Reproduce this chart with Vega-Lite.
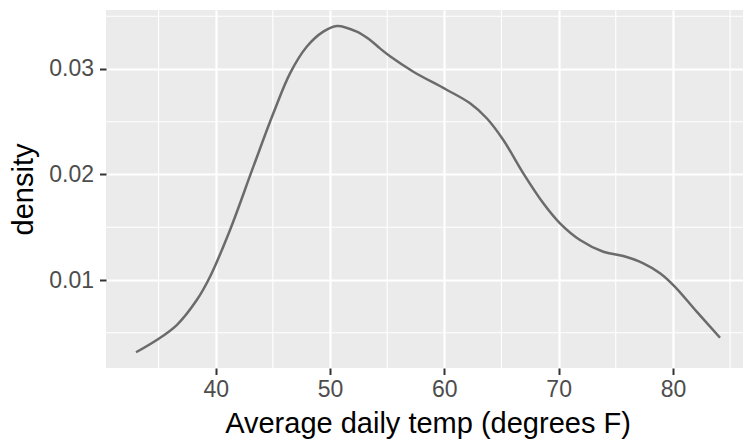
{
  "$schema": "https://vega.github.io/schema/vega-lite/v6.json",
  "width": 637,
  "height": 358,
  "autosize": {"type": "none"},
  "padding": {"left": 106, "top": 10, "right": 0, "bottom": 72},
  "background": "white",
  "config": {
    "font": "Liberation Sans",
    "view": {"fill": "#EBEBEB", "stroke": null},
    "axis": {
      "domain": false,
      "grid": true,
      "gridColor": "white",
      "gridWidth": 2.2,
      "tickColor": "#333333",
      "tickWidth": 2,
      "tickSize": 6.5,
      "labelFont": "Liberation Sans",
      "labelFontSize": 23,
      "labelColor": "#4D4D4D",
      "titleFont": "Liberation Sans",
      "titleFontSize": 29,
      "titleFontWeight": "normal",
      "titleColor": "#000000"
    }
  },
  "layer": [
    {
      "data": {"values": [{"mx": 35}, {"mx": 45}, {"mx": 55}, {"mx": 65}, {"mx": 75}, {"mx": 85}]},
      "mark": {"type": "rule", "color": "white", "strokeWidth": 1.1},
      "encoding": {
        "x": {
          "field": "mx", "type": "quantitative",
          "scale": {"domain": [30.4, 86.13], "nice": false, "zero": false},
          "axis": {"values": [40, 50, 60, 70, 80], "title": "Average daily temp (degrees F)", "labelPadding": 4, "titlePadding": 8, "titleX": 321.5}
        }
      }
    },
    {
      "data": {"values": [{"my": 0.005}, {"my": 0.015}, {"my": 0.025}, {"my": 0.035}]},
      "mark": {"type": "rule", "color": "white", "strokeWidth": 1.1},
      "encoding": {
        "y": {
          "field": "my", "type": "quantitative",
          "scale": {"domain": [0.00166, 0.03559], "nice": false, "zero": false},
          "axis": {"values": [0.01, 0.02, 0.03], "format": ".2f", "title": "density", "labelPadding": 6, "titlePadding": 10}
        }
      }
    },
    {
      "data": {"values": [
        {"temp": 33.03, "density": 0.00315},
        {"temp": 34.84, "density": 0.00431},
        {"temp": 36.59, "density": 0.00573},
        {"temp": 38.34, "density": 0.00810},
        {"temp": 39.50, "density": 0.01031},
        {"temp": 41.25, "density": 0.01474},
        {"temp": 43.29, "density": 0.02074},
        {"temp": 45.04, "density": 0.02580},
        {"temp": 46.50, "density": 0.02959},
        {"temp": 47.96, "density": 0.03211},
        {"temp": 49.41, "density": 0.03354},
        {"temp": 50.59, "density": 0.03408},
        {"temp": 52.34, "density": 0.03354},
        {"temp": 53.50, "density": 0.03275},
        {"temp": 54.37, "density": 0.03195},
        {"temp": 55.25, "density": 0.03120},
        {"temp": 57.29, "density": 0.02974},
        {"temp": 60.12, "density": 0.02808},
        {"temp": 62.25, "density": 0.02675},
        {"temp": 63.71, "density": 0.02533},
        {"temp": 65.16, "density": 0.02327},
        {"temp": 66.91, "density": 0.02011},
        {"temp": 68.66, "density": 0.01727},
        {"temp": 70.12, "density": 0.01537},
        {"temp": 71.87, "density": 0.01379},
        {"temp": 73.91, "density": 0.01268},
        {"temp": 75.66, "density": 0.01227},
        {"temp": 77.41, "density": 0.01158},
        {"temp": 78.87, "density": 0.01064},
        {"temp": 80.18, "density": 0.00936},
        {"temp": 82.08, "density": 0.00700},
        {"temp": 84.12, "density": 0.00453}
      ]},
      "mark": {"type": "line", "color": "#6B6B6B", "strokeWidth": 2.5, "interpolate": "catmull-rom"},
      "encoding": {
        "x": {
          "field": "temp", "type": "quantitative",
          "scale": {"domain": [30.4, 86.13], "nice": false, "zero": false},
          "axis": {"values": [40, 50, 60, 70, 80], "title": "Average daily temp (degrees F)", "labelPadding": 4, "titlePadding": 8, "titleX": 321.5}
        },
        "y": {
          "field": "density", "type": "quantitative",
          "scale": {"domain": [0.00166, 0.03559], "nice": false, "zero": false},
          "axis": {"values": [0.01, 0.02, 0.03], "format": ".2f", "title": "density", "labelPadding": 6, "titlePadding": 10}
        }
      }
    }
  ]
}
